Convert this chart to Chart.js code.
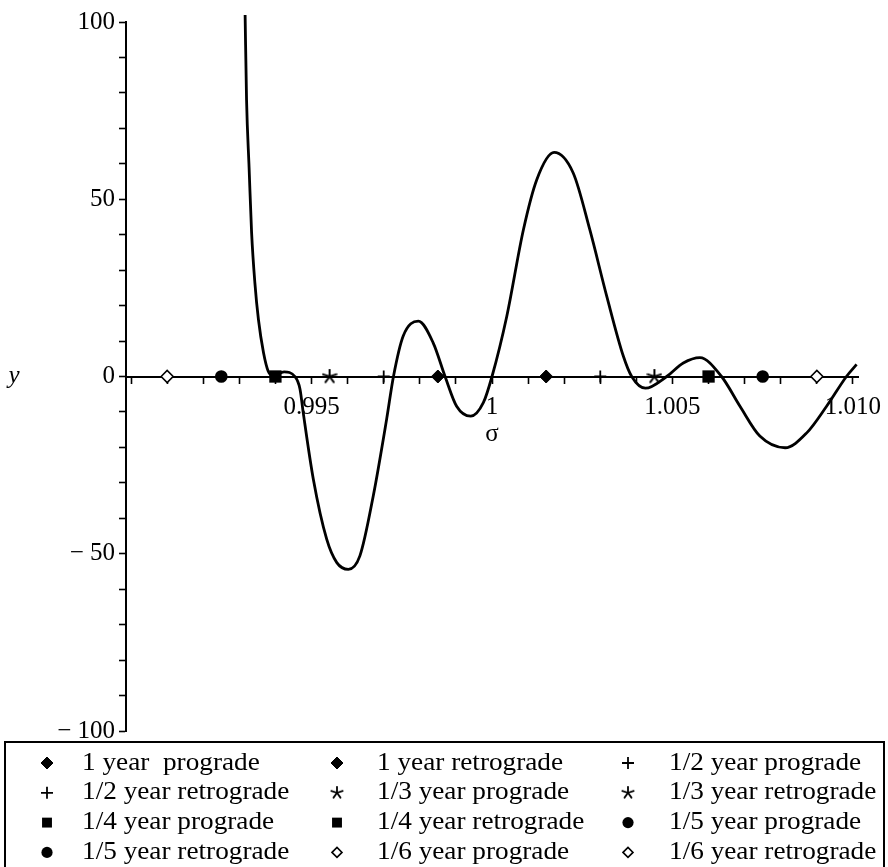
<!DOCTYPE html>
<html>
<head>
<meta charset="utf-8">
<script src="https://cdn.jsdelivr.net/npm/chart.js@4.4.1/dist/chart.umd.min.js"></script>
<style>
  html, body { margin: 0; padding: 0; background: #fff; }
  #contenedor { width: 888px; height: 867px; position: relative; }
</style>
</head>
<body>
<div id="contenedor"><canvas id="grafico"></canvas></div>
<script>
// Curva (sigma, y)
const sigma = [
    0.99316, 0.99320, 0.99327, 0.99334, 0.99343, 0.99353, 0.99367, 0.99380, 0.99394,
    0.99424, 0.99454, 0.99468, 0.99477, 0.99505, 0.99542, 0.99570, 0.99602, 0.99634,
    0.99671, 0.99708, 0.99727, 0.99754, 0.99796, 0.99837, 0.99870, 0.99902, 0.99941,
    0.99976, 1.00000, 1.00041, 1.00087, 1.00124, 1.00172, 1.00225, 1.00271, 1.00318,
    1.00364, 1.00387, 1.00425, 1.00484, 1.00530, 1.00576, 1.00636, 1.00687, 1.00742,
    1.00812, 1.00872, 1.00927, 1.00982, 1.01010
];
const yValues = [
    102, 78, 59, 40.5, 26.5, 16, 6.7, 1.5, 0.2,
    1.3, 0, -3.5, -10.2, -29, -45.9, -52.5, -54.4, -50.6,
    -33.7, -12.1, 0, 11.4, 15.6, 9.5, 0, -8.4, -11.2,
    -7.4, 0, 17, 41.4, 55.5, 63.2, 57.4, 41.4, 22.6,
    5.7, 0, -3.3, 0, 3.8, 5.3, 0, -8.4, -16.8,
    -20.1, -15.9, -8.4, 0, 3.4
];

// Marcadores sobre el eje sigma (y = 0)
const markerLabels = [
    '1 year  prograde', '1 year retrograde', '1/2 year prograde',
    '1/2 year retrograde', '1/3 year prograde', '1/3 year retrograde',
    '1/4 year prograde', '1/4 year retrograde', '1/5 year prograde',
    '1/5 year retrograde', '1/6 year prograde', '1/6 year retrograde'
];
const markerSigma = [
    0.9985, 1.0015, 0.9970, 1.0030, 0.9955, 1.0045,
    0.9940, 1.0060, 0.9925, 1.0075, 0.9910, 1.0090
];

// Etiquetas de los ejes
const xTickValues = [0.995, 1, 1.005, 1.010];
const xTickLabels = ['0.995', '1', '1.005', '1.010'];
const yTickValues = [100, 50, 0, -50, -100];
const yTickLabels = ['100', '50', '0', '\u2212 50', '\u2212 100'];

const fuente = "'Liberation Serif', 'Times New Roman', 'DejaVu Serif', serif";

// Asterisco de cinco brazos como pointStyle
function crearAsterisco(tam, grosor) {
    const c = document.createElement('canvas');
    c.width = tam;
    c.height = tam;
    const g = c.getContext('2d');
    g.strokeStyle = '#000';
    g.lineWidth = grosor;
    g.lineCap = 'round';
    const r = tam / 2 - 1;
    for (let k = 0; k < 5; k++) {
        const a = -Math.PI / 2 + k * 2 * Math.PI / 5;
        g.beginPath();
        g.moveTo(tam / 2, tam / 2);
        g.lineTo(tam / 2 + r * Math.cos(a), tam / 2 + r * Math.sin(a));
        g.stroke();
    }
    return c;
}

// Estilo de cada par (prograde/retrograde) en el gráfico y en la leyenda
const formas = [
    { style: 'rectRot', radius: 6.5, fill: '#000', border: 1, lRadius: 6 },
    { style: 'cross', radius: 6, fill: '#000', border: 1.8, lRadius: 6 },
    { style: crearAsterisco(16, 2), radius: 8, fill: '#000', border: 0, lStyle: crearAsterisco(14, 1.8), lRadius: 7 },
    { style: 'rect', radius: 8.7, fill: '#000', border: 0, lRadius: 7 },
    { style: 'circle', radius: 6.3, fill: '#000', border: 0, lRadius: 5.6 },
    { style: 'rectRot', radius: 6, fill: '#fff', border: 1.6, lRadius: 5 }
];

const datasets = [{
    label: 'y',
    data: sigma.map((s, i) => ({ x: s, y: yValues[i] })),
    showLine: true,
    borderColor: '#000',
    borderWidth: 2.8,
    pointRadius: 0,
    cubicInterpolationMode: 'monotone',
    clip: 12,
    order: 1
}];

markerLabels.forEach((label, i) => {
    const f = formas[Math.floor(i / 2)];
    datasets.push({
        label: label,
        data: [{ x: markerSigma[i], y: 0 }],
        pointStyle: f.style,
        pointRadius: f.radius,
        pointBackgroundColor: f.fill,
        pointBorderColor: '#000',
        pointBorderWidth: f.border,
        clip: false,
        order: 0
    });
});

// Leyenda en cuadro y nombres de los ejes
const leyenda = {
    id: 'leyenda',
    afterDraw(chart) {
        const ctx = chart.ctx;
        ctx.save();

        ctx.fillStyle = '#000';
        ctx.font = 'italic 25px ' + fuente;
        ctx.textAlign = 'center';
        ctx.textBaseline = 'alphabetic';
        ctx.fillText('y', 14, 383);
        ctx.font = '25px ' + fuente;
        ctx.fillText('\u03c3', 492, 441);

        ctx.lineWidth = 2;
        ctx.strokeStyle = '#000';
        ctx.strokeRect(5, 742, 879, 140);

        const colMarca = [47, 337, 628];
        const colTexto = [82, 377, 669];
        const items = chart.data.datasets.filter(d => !d.showLine);
        items.forEach((d, i) => {
            const fila = Math.floor(i / 3);
            const col = i % 3;
            const y = 763 + fila * 29.8;
            const f = formas[Math.floor(i / 2)];
            ctx.fillStyle = f.fill;
            ctx.strokeStyle = '#000';
            ctx.lineWidth = f.border;
            Chart.helpers.drawPoint(ctx, {
                pointStyle: f.lStyle || f.style,
                radius: f.lRadius,
                rotation: 0,
                borderWidth: f.border
            }, colMarca[col], y);

            ctx.fillStyle = '#000';
            ctx.font = '25px ' + fuente;
            ctx.textAlign = 'left';
            ctx.textBaseline = 'middle';
            ctx.save();
            ctx.translate(colTexto[col], y);
            ctx.scale(1.09, 1);
            ctx.fillText(d.label, 0, 0);
            ctx.restore();
        });
        ctx.restore();
    }
};

const ctx = document.getElementById('grafico').getContext('2d');
const grafico = new Chart(ctx, {
    type: 'scatter',
    data: { datasets: datasets },
    options: {
        responsive: true,
        maintainAspectRatio: false,
        animation: false,
        layout: { padding: { left: 0, right: 30, top: 22, bottom: 136 } },
        plugins: {
            legend: { display: false },
            tooltip: { enabled: false }
        },
        scales: {
            x: {
                type: 'linear',
                position: { y: 0 },
                min: 0.98986,
                max: 1.01014,
                afterBuildTicks: function(scale) {
                    const ticks = [];
                    for (let k = 990; k <= 1010; k++) {
                        ticks.push({ value: k / 1000 });
                    }
                    scale.ticks = ticks;
                },
                afterFit: function(scale) {
                    // el margen lo fija layout.padding
                    scale.paddingLeft = 0;
                    scale.paddingRight = 0;
                },
                ticks: {
                    autoSkip: false,
                    maxRotation: 0,
                    padding: 10,
                    color: '#000',
                    font: { family: fuente, size: 25 },
                    callback: function(value) {
                        const idx = xTickValues.findIndex(v => Math.abs(v - value) < 1e-7);
                        return idx >= 0 ? xTickLabels[idx] : '';
                    }
                },
                grid: {
                    drawOnChartArea: false,
                    drawTicks: true,
                    tickLength: 6,
                    tickWidth: 1.6,
                    tickColor: '#000'
                },
                border: { color: '#000', width: 2 }
            },
            y: {
                type: 'linear',
                position: 'left',
                min: -100,
                max: 100,
                afterBuildTicks: function(scale) {
                    const ticks = [];
                    for (let v = -100; v <= 100; v += 10) {
                        ticks.push({ value: v });
                    }
                    scale.ticks = ticks;
                },
                afterFit: function(scale) {
                    scale.width = 126;
                },
                ticks: {
                    autoSkip: false,
                    padding: 4,
                    color: '#000',
                    font: { family: fuente, size: 25 },
                    callback: function(value) {
                        const idx = yTickValues.indexOf(value);
                        return idx >= 0 ? yTickLabels[idx] : '';
                    }
                },
                grid: {
                    drawOnChartArea: false,
                    drawTicks: true,
                    tickLength: 7,
                    tickWidth: 1.6,
                    tickColor: '#000'
                },
                border: { color: '#000', width: 2 }
            }
        }
    },
    plugins: [leyenda]
});
</script>
</body>
</html>
